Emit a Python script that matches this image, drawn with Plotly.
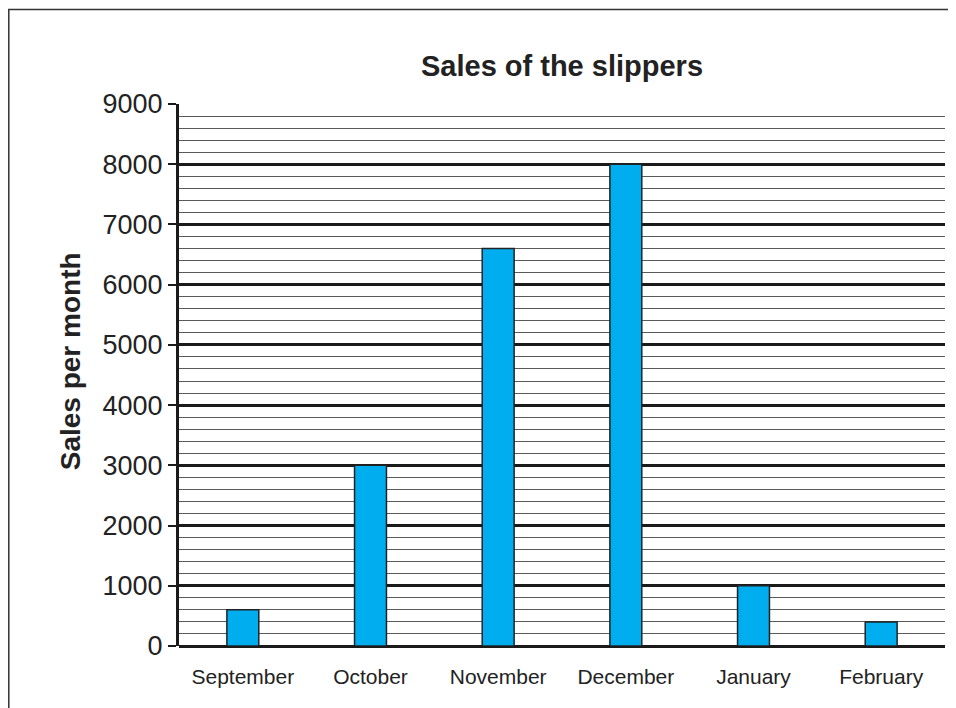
import plotly.graph_objects as go

months = ["September", "October", "November", "December", "January", "February"]
sales = [600, 3000, 6600, 8000, 1000, 400]
y_ticks = [0, 1000, 2000, 3000, 4000, 5000, 6000, 7000, 8000, 9000]

FONT = "Liberation Sans, Arial, sans-serif"

L, T, R, B = 171, 95.5, 19, 70
W, H = 956, 708
pw, ph = W - L - R, H - T - B

fig = go.Figure()
fig.add_trace(go.Bar(
    x=months, y=sales, width=0.25,
    marker=dict(color="#00AEEF", line=dict(color="#222222", width=1.5)),
))

fig.update_layout(
    width=W, height=H,
    margin=dict(l=L, r=R, t=T, b=B),
    plot_bgcolor="white", paper_bgcolor="white",
    showlegend=False,
    font=dict(family=FONT, color="#222222"),
    title=dict(text="<b>Sales of the slippers</b>",
               x=(L + pw / 2) / W, xanchor="center",
               y=1 - 58 / H, yanchor="middle",
               font=dict(size=29, family=FONT, color="#222222")),
    shapes=[dict(type="rect", xref="paper", yref="paper",
                 x0=(0.8 - L) / pw, x1=1.3, y0=-0.3, y1=(H - B - 0.8) / ph,
                 line=dict(color="#333333", width=1.5), layer="below")],
    annotations=[dict(text="<b>Sales per month</b>", textangle=-90,
                      xref="paper", yref="paper",
                      x=(62 - L) / pw, y=(H - B - 353) / ph,
                      xanchor="center", yanchor="middle", showarrow=False,
                      font=dict(size=28, family=FONT, color="#222222"))],
)

fig.update_xaxes(
    showgrid=False, zeroline=False, showline=False,
    ticks="outside", ticklen=12, tickcolor="rgba(0,0,0,0)",
    tickfont=dict(size=21, family=FONT, color="#222222"),
)

fig.update_yaxes(
    range=[0, 9000], tickvals=y_ticks,
    showgrid=True, gridcolor="#1a1a1a", gridwidth=2.5,
    zeroline=True, zerolinecolor="#1a1a1a", zerolinewidth=3,
    showline=True, linecolor="#1a1a1a", linewidth=3,
    ticks="outside", ticklen=8, tickwidth=1.5, tickcolor="#1a1a1a",
    tickfont=dict(size=27, family=FONT, color="#222222"),
    minor=dict(dtick=200, showgrid=True, gridcolor="#5a5a5a", gridwidth=1.4, ticklen=0),
)

fig.write_html("out.html")
